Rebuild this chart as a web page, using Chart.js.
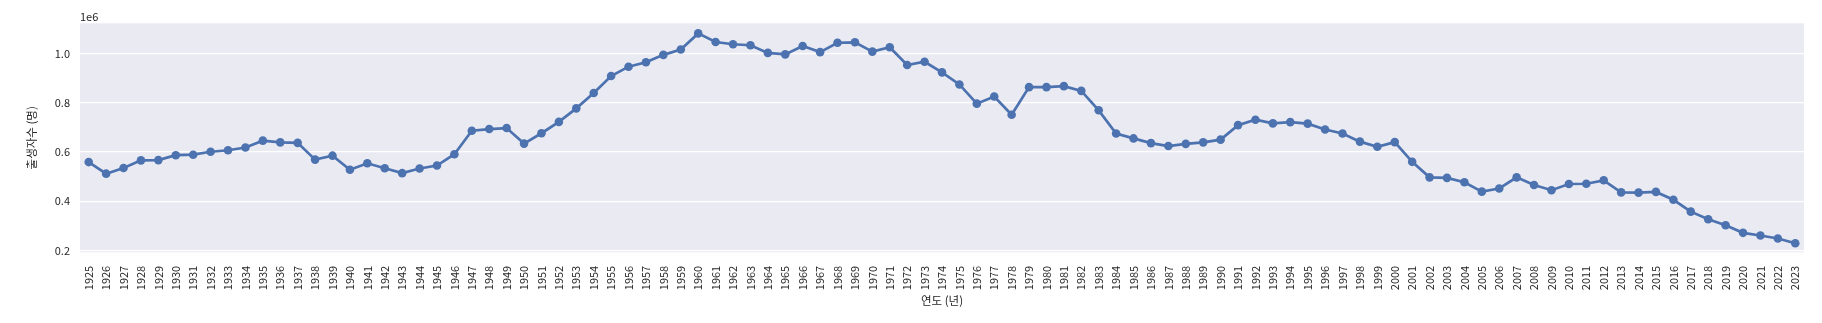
<!DOCTYPE html>
<html>
<head>
<meta charset="utf-8">
<script src="https://cdn.jsdelivr.net/npm/chart.js@4"></script>
<style>
  html, body { margin: 0; padding: 0; background: #ffffff; }
  #wrap { width: 1822px; height: 323px; }
</style>
</head>
<body>
<div id="wrap"><canvas id="birthChart" width="1822" height="323"></canvas></div>
<script>
// years on the x axis
const years = [];
for (let y = 1925; y <= 2023; y++) years.push(String(y));

// births per year (people)
const births = [
  559000, 512000, 535000, 566000, 567000, 587000, 589000, 601000, 607000, 618000,
  646000, 639000, 637000, 569000, 585000, 528000, 554000, 534000, 514000, 533000,
  545000, 591000, 686000, 693000, 697000, 634000, 676000, 722000, 777000, 839000,
  908000, 946000, 964000, 994000, 1016000, 1081000, 1046000, 1037000, 1033000, 1002000,
  996000, 1030000, 1005000, 1043000, 1045000, 1007000, 1025000, 953000, 966000, 923000,
  874000, 796000, 825000, 751000, 863000, 863000, 867000, 848000, 769000, 675000,
  655000, 636000, 624000, 633000, 639000, 650000, 709000, 731000, 716000, 721000,
  715000, 691000, 675000, 642000, 621000, 640000, 560000, 497000, 495000, 477000,
  439000, 452000, 497000, 466000, 445000, 470000, 471000, 485000, 436000, 435000,
  438000, 406000, 358000, 327000, 303000, 272000, 261000, 249000, 230000
];

const yTicks = [200000, 400000, 600000, 800000, 1000000];

const FONT = '"Noto Sans CJK KR", "Noto Sans", sans-serif';
const TXT = '#262626';

// grey plot background + "1e6" offset label
const facePlugin = {
  id: 'face',
  beforeDraw(chart) {
    const a = chart.chartArea, ctx = chart.ctx;
    ctx.save();
    ctx.fillStyle = '#eaeaf2';
    ctx.fillRect(a.left, a.top, a.right - a.left, a.bottom - a.top);
    ctx.restore();
  },
  afterDraw(chart) {
    const a = chart.chartArea, ctx = chart.ctx;
    ctx.save();
    ctx.fillStyle = TXT;
    ctx.font = '11px ' + FONT;
    ctx.textAlign = 'left';
    ctx.textBaseline = 'middle';
    ctx.fillText('1e6', a.left, 16.5);
    ctx.restore();
  }
};

new Chart(document.getElementById('birthChart'), {
  type: 'line',
  data: {
    labels: years,
    datasets: [{
      label: '출생자수',
      data: births,
      borderColor: '#4c72b0',
      backgroundColor: '#4c72b0',
      borderWidth: 2.7,
      pointRadius: 4.3,
      pointBorderWidth: 0,
      pointBackgroundColor: '#4c72b0',
      tension: 0
    }]
  },
  options: {
    responsive: false,
    animation: false,
    layout: { padding: { top: 23.3, right: 5.3, left: 0, bottom: 0 } },
    plugins: { legend: { display: false }, tooltip: { enabled: false } },
    scales: {
      x: {
        type: 'category',
        offset: true,
        grid: { display: false, drawTicks: false },
        border: { display: false },
        ticks: {
          autoSkip: false, maxRotation: 90, minRotation: 90,
          padding: 13.5, color: TXT, font: { family: FONT, size: 11 }
        },
        title: {
          display: true, text: '연도 (년)', color: TXT,
          font: { family: FONT, size: 11.5 }, padding: { top: 0, bottom: 15 }
        },
        afterFit(s) { s.height = 70.7; }
      },
      y: {
        min: 193000,
        max: 1122000,
        grid: { color: '#ffffff', lineWidth: 1.3, drawTicks: false },
        border: { display: false },
        afterBuildTicks(s) { s.ticks = yTicks.map(v => ({ value: v })); },
        ticks: {
          padding: 10, color: TXT, font: { family: FONT, size: 11 },
          callback: v => (v / 1e6).toFixed(1)
        },
        title: {
          display: true, text: '출생자수 (명)', color: TXT,
          font: { family: FONT, size: 11.5 }, padding: { top: 25, bottom: 0 }
        },
        afterFit(s) { s.width = 80; }
      }
    }
  },
  plugins: [facePlugin]
});
</script>
</body>
</html>
